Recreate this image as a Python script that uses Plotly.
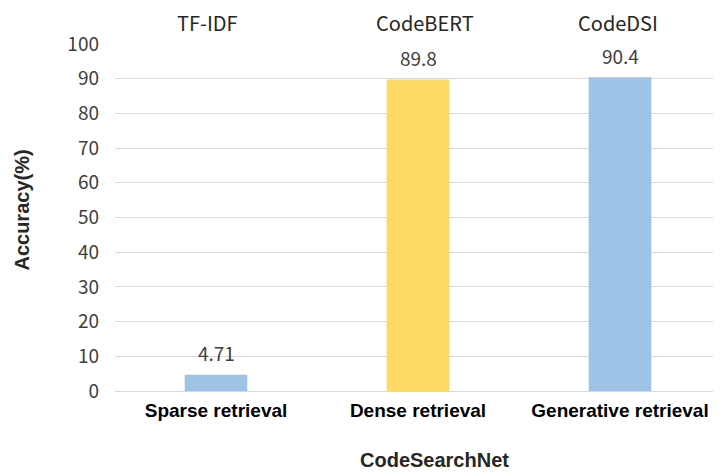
import plotly.graph_objects as go

categories = ['Sparse retrieval', 'Dense retrieval', 'Generative retrieval']
methods = ['TF-IDF', 'CodeBERT', 'CodeDSI']
accuracy = [4.71, 89.8, 90.4]
value_text = ['4.71', '89.8', '90.4']
bar_colors = ['#9DC3E6', '#FFD966', '#9DC3E6']
method_shift = [-9, 7, -2]

tick_font = 'Noto Sans CJK SC, DejaVu Sans, sans-serif'
bold_font = 'Liberation Sans, Arial, sans-serif'

fig = go.Figure()
fig.add_trace(go.Bar(
    x=categories,
    y=accuracy,
    marker_color=bar_colors,
    marker_line_width=0,
    width=0.31,
    hoverinfo='x+y'
))

# value labels above bars
for cat, val, txt in zip(categories, accuracy, value_text):
    fig.add_annotation(x=cat, y=val, text=txt, showarrow=False,
                       yanchor='middle', yshift=22,
                       font=dict(family=tick_font, size=19, color='#404040'))

# method names above the plot
for cat, m, dx in zip(categories, methods, method_shift):
    fig.add_annotation(x=cat, y=1, yref='paper', text=m, showarrow=False,
                       yanchor='middle', yshift=22, xshift=dx, borderpad=0,
                       font=dict(family=tick_font, size=20, color='#262626'))

# axis titles
fig.add_annotation(x=0.528, y=0, xref='paper', yref='paper',
                   text='<b>CodeSearchNet</b>', showarrow=False,
                   xanchor='center', yanchor='middle', yshift=-69, borderpad=0,
                   font=dict(family=bold_font, size=20, color='#262626'))
fig.add_annotation(x=0, y=0.52, xref='paper', yref='paper',
                   text='<b>Accuracy(%)</b>', showarrow=False, textangle=-90,
                   xanchor='center', yanchor='middle', xshift=-93,
                   font=dict(family=bold_font, size=20, color='#262626'))

# the page adds an 8px body margin, so margins are trimmed to match
fig.update_layout(
    width=721,
    height=475,
    margin=dict(l=107, r=8, t=36, b=92),
    plot_bgcolor='white',
    paper_bgcolor='white',
    showlegend=False,
    xaxis=dict(
        tickfont=dict(family=bold_font, size=19, color='#000000', weight='bold'),
        ticklabelstandoff=6,
        showline=False,
        showgrid=False,
    ),
    yaxis=dict(
        range=[0, 100],
        dtick=10,
        tickfont=dict(family=tick_font, size=19, color='#404040'),
        showgrid=True,
        gridcolor='#D9D9D9',
        gridwidth=1.2,
        zeroline=True,
        zerolinecolor='#D9D9D9',
        zerolinewidth=1.2,
        ticks='',
        ticklabelstandoff=15,
    ),
)

fig.write_html('out.html')
